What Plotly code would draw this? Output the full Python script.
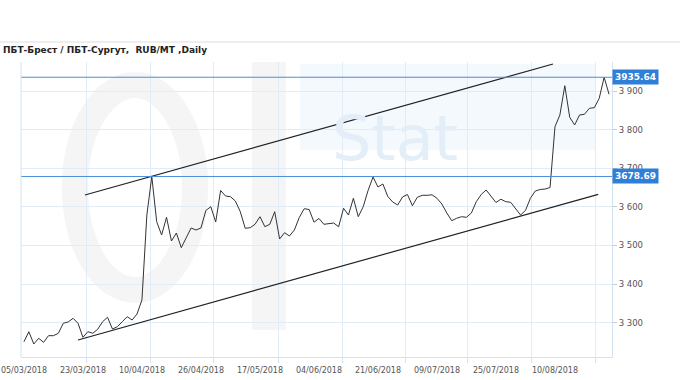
import plotly.graph_objects as go

title_text = "ПБТ-Брест / ПБТ-Сургут,  RUB/MT ,Daily"

prices = [
    3250.8, 3276.7, 3244.9, 3259.6, 3249.3, 3266.4, 3266.4, 3272.6, 3298.5, 3301.9,
    3311.4, 3298.5, 3262.2, 3276.7, 3272.6, 3283.0, 3302.6, 3314.0, 3283.7, 3289.7,
    3302.6, 3315.6, 3307.0, 3322.6, 3359.0, 3579.0, 3678.69, 3561.6, 3527.1, 3573.0,
    3511.6, 3532.3, 3494.3, 3518.6, 3545.3, 3540.1, 3545.3, 3590.6, 3600.4, 3560.8,
    3642.4, 3628.1, 3626.3, 3615.2, 3587.5, 3544.5, 3546.0, 3554.8, 3574.5, 3548.6,
    3554.8, 3587.5, 3516.8, 3533.1, 3524.5, 3540.1, 3572.5, 3595.2, 3593.2, 3560.3,
    3569.9, 3554.8, 3556.9, 3558.2, 3548.4, 3596.3, 3578.9, 3622.2, 3574.5, 3600.4,
    3642.9, 3677.3, 3651.4, 3659.2, 3626.8, 3612.6, 3604.8, 3625.5, 3632.0, 3603.0,
    3624.8, 3629.9, 3629.9, 3631.2, 3622.2, 3607.4, 3584.1, 3564.2, 3570.4, 3574.5,
    3573.0, 3584.1, 3613.4, 3632.0, 3643.7, 3627.3, 3611.3, 3619.8, 3613.4, 3611.8,
    3596.3, 3578.9, 3590.6, 3622.2, 3641.1, 3645.0, 3646.2, 3650.1, 3807.6, 3837.9,
    3913.7, 3831.9, 3812.0, 3837.9, 3839.7, 3855.2, 3856.8, 3881.1, 3935.64, 3891.5,
]
idx = list(range(len(prices)))

x_tick_idx = [0, 12, 24, 36, 48, 60, 72, 84, 96, 108]
x_tick_text = ["05/03/2018", "23/03/2018", "10/04/2018", "26/04/2018", "17/05/2018",
               "04/06/2018", "21/06/2018", "09/07/2018", "25/07/2018", "10/08/2018"]
grid_idx = [12.8, 25.8, 38.6, 51.7, 64.7, 77.5, 90.3, 103.3, 116.3]

y_tick_vals = [3300, 3400, 3500, 3600, 3700, 3800, 3900]
y_tick_text = ["3 300", "3 400", "3 500", "3 600", "3 700", "3 800", "3 900"]

levels = [3935.64, 3678.69]

upper_x = [12.4, 107.6]
upper_y = [3630.7, 3969.9]
lower_x = [11.0, 116.8]
lower_y = [3255.3, 3632.5]

x_range = [-0.6, 119.6]
y_range = [3211.2, 3975.1]

GRID = "#e2ecf6"
AXIS = "#d3e2f0"
FONT = "DejaVu Sans, Verdana, sans-serif"

# plot area in pixels (for paper-coordinate decorations)
PL, PR, PT, PB = 21, 612, 62, 357


def px(x):
    return (x - PL) / (PR - PL)


def py(y):
    return (PB - y) / (PB - PT)


fig = go.Figure()

# faint watermark ("Oil Stat" logo)
fig.add_shape(type="circle", xref="paper", yref="paper", x0=px(75), x1=px(195), y0=py(290), y1=py(85),
              line=dict(color="#f5f5f5", width=26), layer="below")
fig.add_shape(type="rect", xref="paper", yref="paper", x0=px(252), x1=px(286), y0=py(330), y1=py(62),
              line=dict(width=0), fillcolor="#f5f5f5", layer="below")
fig.add_shape(type="rect", xref="paper", yref="paper", x0=px(300), x1=px(595), y0=py(150), y1=py(64),
              line=dict(width=0), fillcolor="#f4f9fd", layer="below")
fig.add_annotation(xref="paper", yref="paper", x=px(395), y=py(100), text="Stat", showarrow=False,
                   font=dict(family=FONT, size=62, color="#e3eef8"))

fig.add_trace(go.Scatter(x=idx, y=prices, mode="lines",
                         line=dict(color="#333333", width=1), showlegend=False, hoverinfo="skip"))
fig.add_trace(go.Scatter(x=upper_x, y=upper_y, mode="lines",
                         line=dict(color="#222222", width=1.2), showlegend=False, hoverinfo="skip"))
fig.add_trace(go.Scatter(x=lower_x, y=lower_y, mode="lines",
                         line=dict(color="#222222", width=1.2), showlegend=False, hoverinfo="skip"))
fig.add_trace(go.Scatter(x=[grid_idx[0]], y=[None], xaxis="x2", mode="lines",
                         showlegend=False, hoverinfo="skip"))

for lvl in levels:
    fig.add_shape(type="line", xref="paper", x0=0, x1=1, yref="y", y0=lvl, y1=lvl,
                  line=dict(color="#4a8fd8", width=1))
    fig.add_annotation(xref="paper", x=1, xanchor="left", yref="y", y=lvl, yanchor="middle",
                       text=f"{lvl:.2f}", showarrow=False, bgcolor="#2f7ed8",
                       font=dict(family=FONT, size=9, color="white", weight="bold"),
                       borderpad=2)

# left border and top separator line
fig.add_shape(type="line", xref="paper", yref="paper", x0=0, x1=0, y0=0, y1=1,
              line=dict(color=AXIS, width=1))
fig.add_shape(type="line", xref="paper", yref="paper", x0=px(0), x1=px(680),
              y0=py(42), y1=py(42), line=dict(color="#dddddd", width=1))

fig.update_layout(
    width=680, height=380,
    margin=dict(l=PL, r=680 - PR, t=PT, b=380 - PB, autoexpand=False),
    paper_bgcolor="white", plot_bgcolor="white",
    title=dict(text=title_text, x=3 / 680, xanchor="left", xref="container",
               y=1 - 50 / 380, yanchor="middle", yref="container",
               font=dict(family=FONT, size=9, color="#222222", weight="bold")),
    xaxis=dict(range=x_range, tickvals=x_tick_idx, ticktext=x_tick_text, showgrid=False,
               zeroline=False, ticks="", showline=True, linecolor=AXIS, automargin=False,
               ticklabeloverflow="allow", ticklabelstandoff=5,
               tickfont=dict(family=FONT, size=8, color="#555555")),
    xaxis2=dict(range=x_range, overlaying="x", side="bottom", tickvals=grid_idx,
                showticklabels=False, showgrid=True, gridcolor=GRID, ticks="outside",
                ticklen=5, tickcolor=AXIS, showline=False, zeroline=False, automargin=False),
    yaxis=dict(range=y_range, side="right", tickvals=y_tick_vals, ticktext=y_tick_text,
               showgrid=True, gridcolor=GRID, ticks="outside", ticklen=4, tickcolor="#cccccc",
               showline=True, linecolor=AXIS, zeroline=False, automargin=False,
               tickfont=dict(family=FONT, size=8.5, color="#555555")),
)

fig.write_html("out.html")
